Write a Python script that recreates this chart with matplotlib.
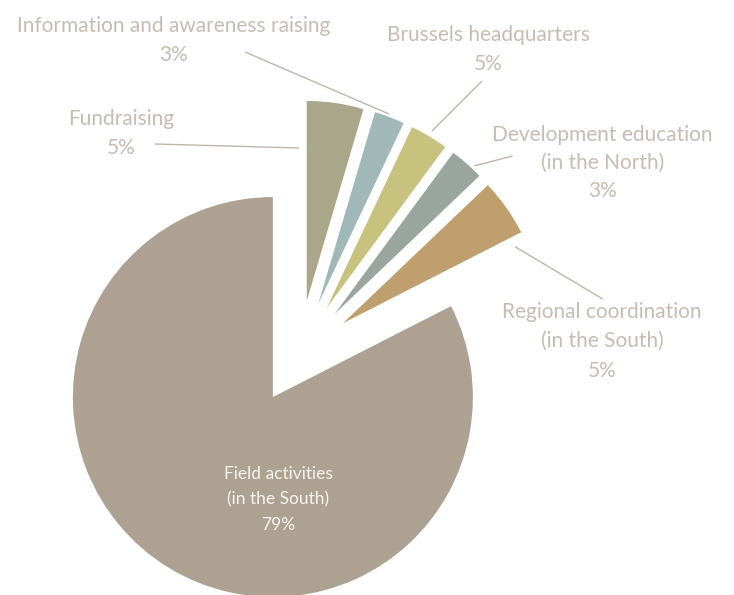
import matplotlib
matplotlib.use('Agg')
import matplotlib.pyplot as plt

# ---- data ----
categories = ['Fundraising', 'Information and awareness raising', 'Brussels headquarters',
              'Development education (in the North)', 'Regional coordination (in the South)',
              'Field activities (in the South)']
label_lines = [['Fundraising'], ['Information and awareness raising'], ['Brussels headquarters'],
               ['Development education', '(in the North)'],
               ['Regional coordination', '(in the South)'],
               ['Field activities', '(in the South)']]
pct_labels = ['5%', '3%', '5%', '3%', '5%', '79%']
shares = [4.58, 2.44, 3.08, 2.78, 4.61, 82.51]
colors = ['#aaa68a', '#a1b8b8', '#c8c27f', '#9ba59f', '#bf9f6e', '#ada292']

# ---- figure ----
W, H = 734, 595
CX, CY, R = 299.0, 354.4, 200.0   # pie centre / radius in pixels
fig = plt.figure(figsize=(W / 100, H / 100), dpi=100)
ax = fig.add_axes([0, 0, 1, 1])

ax.pie(shares, colors=colors, startangle=90, counterclock=False,
       explode=[0.27] * 5 + [0.25], radius=1, center=(0, 0), frame=True,
       wedgeprops=dict(linewidth=0))
ax.set_xlim(-CX / R, (W - CX) / R)
ax.set_ylim(-(H - CY) / R, CY / R)
ax.set_aspect('auto')
ax.axis('off')


def P(x, y):
    return ((x - CX) / R, (CY - y) / R)


FAM = ['Lato', 'DejaVu Sans']
txt_col = '#c6bcb3'
line_col = '#c0b5ab'

# label layout: (centre x, first baseline, line spacing)
layout = {
    0: (121, 125, 29),
    1: (174, 31.7, 29.3),
    2: (488, 41, 29),
    3: (602.5, 140.7, 28.3),
    4: (602, 318, 29.3),
}
for i, (cx, by, sp) in layout.items():
    lines = label_lines[i] + [pct_labels[i]]
    for k, s in enumerate(lines):
        ax.text(*P(cx, by + k * sp), s, ha='center', va='baseline',
                fontsize=15, color=txt_col, family=FAM, fontweight='normal')

# field label (inside big slice)
lines = label_lines[5] + [pct_labels[5]]
for k, s in enumerate(lines):
    ax.text(*P(278, 479 + k * 25.5), s, ha='center', va='baseline',
            fontsize=12.5, color='#f6f3ee', family=FAM, fontweight='normal')

leaders = [((155, 144), (299, 148)), ((245, 52), (389, 114)), ((482, 81), (432, 131)),
           ((512.7, 156), (474, 166)), ((515, 246.7), (602.7, 299))]
for a, b in leaders:
    pa, pb = P(*a), P(*b)
    ax.plot([pa[0], pb[0]], [pa[1], pb[1]], color=line_col, lw=1.0, solid_capstyle='butt')

fig.savefig('out.png', dpi=100, facecolor='white')
